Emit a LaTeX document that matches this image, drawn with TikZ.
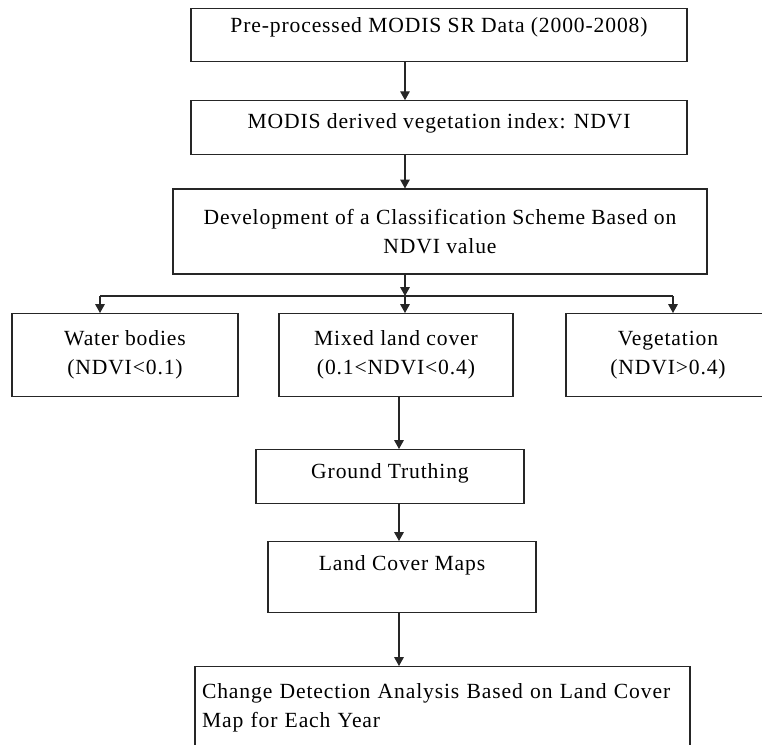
\documentclass[tikz,border=0pt]{standalone}
\usepackage{fontspec}
\setmainfont{Liberation Serif}[LetterSpace=4]
\usepackage{tikz}
\usetikzlibrary{arrows.meta, positioning}

\begin{document}
\begin{tikzpicture}[
    x=0.02cm, y=-0.02cm,
    font=\fontsize{12.3}{16.5}\selectfont,
    % Styles
    process/.style={rectangle, draw=black!85, line width=0.7pt, align=center, inner sep=0pt, text=black, fill=white},
    arrow/.style={line width=0.6pt, -{Triangle[width=5.4pt, length=5pt]}, color=black!85},
    line/.style={line width=0.6pt, -, color=black!85}
]
\useasboundingbox (0,0) rectangle (762,745);

% Guide lines for the vertical connectors
\coordinate (spine) at (405,0);
\coordinate (spine_low) at (399,0);

% ==========================================================================================
% NDVI PREPARATION
% ==========================================================================================

\node[process, anchor=north, minimum width=9.92cm, text height=0.48cm, text depth=0.58cm] (sr_data) at (439,8) {Pre-processed MODIS SR Data (2000-2008)};

\node[process, below=0.76cm of sr_data, minimum width=9.92cm, text height=0.56cm, text depth=0.52cm] (ndvi) {MODIS derived vegetation index: NDVI};

\node[process, below=0.66cm of ndvi, xshift=0.02cm, minimum width=10.68cm, minimum height=1.7cm] (scheme) {Development of a Classification Scheme Based on\\NDVI value};

% ==========================================================================================
% CLASSES
% ==========================================================================================

\coordinate (split) at (405,296);
\coordinate (split_w) at (100,296);
\coordinate (split_v) at (673,296);

\node[process, anchor=north, minimum width=4.52cm, minimum height=1.66cm] (water) at (125,313) {Water bodies\\(NDVI<0.1)};
\node[process, anchor=north, minimum width=4.68cm, minimum height=1.66cm] (mixed) at (396,313) {Mixed land cover\\(0.1<NDVI<0.4)};
\node[process, anchor=north, minimum width=4.08cm, minimum height=1.66cm] (veg) at (668,313) {Vegetation\\(NDVI>0.4)};

% Arrows
\draw[arrow] (sr_data.south -| spine) -- (ndvi.north -| spine);
\draw[arrow] (ndvi.south -| spine) -- (scheme.north -| spine);
\draw[arrow] (scheme.south -| spine) -- (split);
\draw[line] (split_w) -- (split_v);
\draw[arrow] (split) -- (mixed.north -| spine);
\draw[arrow] (split_w) -- (water.north -| split_w);
\draw[arrow] (split_v) -- (veg.north -| split_v);

% ==========================================================================================
% MAPPING
% ==========================================================================================

\node[process, anchor=north, minimum width=5.36cm, text height=0.58cm, text depth=0.5cm] (ground) at (390,449) {Ground Truthing};
\node[process, anchor=north, minimum width=5.36cm, text height=0.58cm, text depth=0.84cm] (maps) at (402,541) {Land Cover Maps};
\node[process, anchor=north, minimum width=9.9cm, minimum height=1.66cm, text width=9.62cm, align=left] (change) at (442.5,666) {Change Detection Analysis Based on Land Cover\\Map for Each Year};

% Arrows
\draw[arrow] (mixed.south -| spine_low) -- (ground.north -| spine_low);
\draw[arrow] (ground.south -| spine_low) -- (maps.north -| spine_low);
\draw[arrow] (maps.south -| spine_low) -- (change.north -| spine_low);

\end{tikzpicture}
\end{document}
